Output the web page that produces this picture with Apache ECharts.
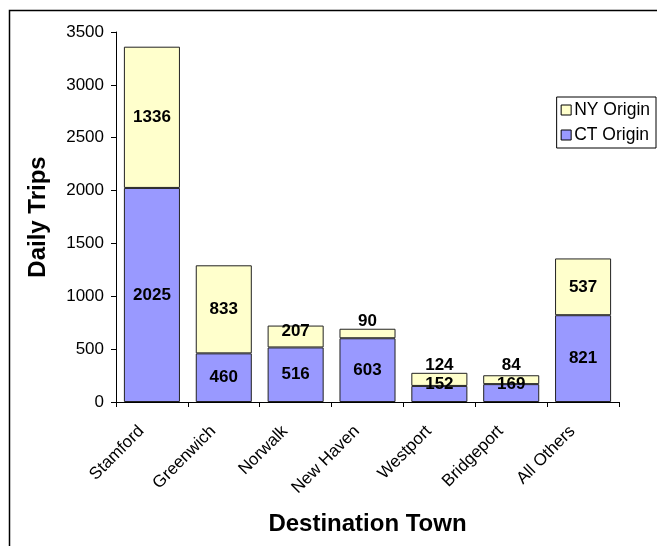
<!DOCTYPE html>
<html>
<head>
<meta charset="utf-8">
<style>
  html, body { margin: 0; padding: 0; background: #fff; }
  #chart { width: 657px; height: 546px; }
</style>
<script src="https://cdn.jsdelivr.net/npm/echarts@6/dist/echarts.min.js"></script>
</head>
<body>
<div id="chart"></div>
<script>
// Daily trips by destination town, split by origin state
const towns = ['Stamford', 'Greenwich', 'Norwalk', 'New Haven', 'Westport', 'Bridgeport', 'All Others'];
const ctOrigin = [2025, 460, 516, 603, 152, 169, 821];
const nyOrigin = [1336, 833, 207, 90, 124, 84, 537];
const yTicks = { min: 0, max: 3500, step: 500 };

// Labels on thin segments are lifted so they stay readable
const ctLift = { Westport: -10, Bridgeport: -9 };
const nyLift = { Norwalk: -5, 'New Haven': -12, Westport: -14, Bridgeport: -14 };

const FONT = '"Liberation Sans", Arial, sans-serif';

function withLabels(values, lift) {
  return values.map((v, i) => {
    const d = { value: v };
    if (lift[towns[i]]) d.label = { offset: [0, lift[towns[i]]] };
    return d;
  });
}

const barLabel = {
  show: true,
  position: 'inside',
  color: '#000',
  fontFamily: FONT,
  fontWeight: 'bold',
  fontSize: 17
};

const chart = echarts.init(document.getElementById('chart'), null, { renderer: 'canvas' });
chart.setOption({
  animation: false,
  backgroundColor: '#fff',
  textStyle: { fontFamily: FONT },
  graphic: [{
    type: 'rect',
    shape: { x: 9.5, y: 10.5, width: 700, height: 600 },
    style: { fill: 'none', stroke: '#000', lineWidth: 1.5 },
    silent: true
  }],
  grid: { left: 116, right: 38, top: 32, bottom: 144 },
  legend: {
    orient: 'vertical',
    right: 1,
    top: 97,
    itemWidth: 10,
    itemHeight: 10,
    itemGap: 7,
    padding: [4, 6, 4, 4],
    borderColor: '#000',
    borderWidth: 1,
    backgroundColor: '#fff',
    textStyle: { fontFamily: FONT, fontSize: 17.5, color: '#000', padding: [0, 0, 0, -2] },
    data: [
      { name: 'NY Origin', icon: 'rect', itemStyle: { borderColor: '#000', borderWidth: 1 } },
      { name: 'CT Origin', icon: 'rect', itemStyle: { borderColor: '#000', borderWidth: 1 } }
    ]
  },
  xAxis: {
    type: 'category',
    data: towns,
    boundaryGap: true,
    name: 'Destination Town',
    nameLocation: 'middle',
    nameGap: 110,
    nameTextStyle: { fontFamily: FONT, fontSize: 24, fontWeight: 'bold', color: '#000' },
    axisLine: { lineStyle: { color: '#000', width: 1 } },
    axisTick: { show: true, length: 5, lineStyle: { color: '#000' } },
    axisLabel: { rotate: 45, margin: 16, padding: [0, 15, 0, 0], fontSize: 17, color: '#000', fontFamily: FONT, interval: 0 },
    splitLine: { show: false }
  },
  yAxis: {
    type: 'value',
    min: yTicks.min,
    max: yTicks.max,
    interval: yTicks.step,
    name: 'Daily Trips',
    nameLocation: 'middle',
    nameGap: 66,
    nameTextStyle: { fontFamily: FONT, fontSize: 24, fontWeight: 'bold', color: '#000' },
    axisLine: { show: true, lineStyle: { color: '#000', width: 1 } },
    axisTick: { show: true, length: 5, lineStyle: { color: '#000' } },
    axisLabel: { margin: 12, fontSize: 17, color: '#000', fontFamily: FONT, formatter: v => String(v) },
    splitLine: { show: false }
  },
  series: [
    {
      name: 'CT Origin',
      type: 'bar',
      stack: 'trips',
      barWidth: '78%',
      data: withLabels(ctOrigin, ctLift),
      itemStyle: { color: '#9999FF', borderColor: '#222', borderWidth: 1 },
      label: barLabel
    },
    {
      name: 'NY Origin',
      type: 'bar',
      stack: 'trips',
      barWidth: '78%',
      data: withLabels(nyOrigin, nyLift),
      itemStyle: { color: '#FFFFCC', borderColor: '#222', borderWidth: 1 },
      label: barLabel
    }
  ]
});
</script>
</body>
</html>
